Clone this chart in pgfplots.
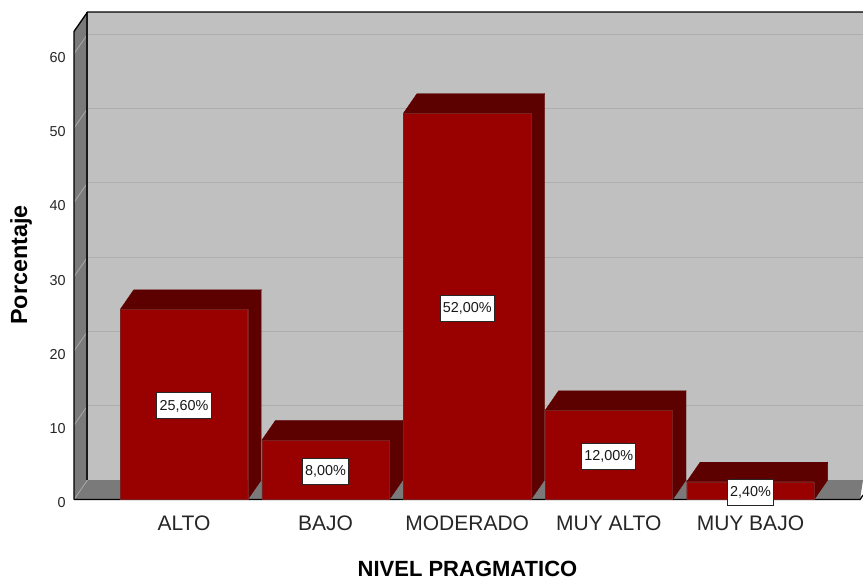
\documentclass[border=0pt]{standalone}
\usepackage{fontspec}
\setmainfont{Liberation Sans}
\usepackage{pgfplots}
\pgfplotsset{compat=1.18}
\definecolor{wall}{HTML}{C0C0C0}
\definecolor{floorgray}{HTML}{7A7A7A}
\definecolor{gridback}{HTML}{AEAEAE}
\definecolor{gridside}{HTML}{A8A8A8}
\definecolor{barfront}{HTML}{990000}
\definecolor{barside}{HTML}{5C0000}
\definecolor{edgegray}{HTML}{7A2020}
\begin{document}
\begin{tikzpicture}
\path[use as bounding box] (0,0) rectangle (647.25pt,437.25pt);
\begin{axis}[
    at={(55.5pt,62.6pt)}, anchor=south west,
    scale only axis, width=591.75pt, height=365.6pt,
    xmin=-0.7768, xmax=4.795, ymin=0, ymax=65.61,
    axis line style={draw=none},
    major tick length=0pt,
    xtick={0,1,2,3,4},
    xticklabels={ALTO,BAJO,MODERADO,MUY ALTO,MUY BAJO},
    ytick={0,10,20,30,40,50,60},
    /pgf/number format/assume math mode=true,
    xticklabel style={font=\fontsize{15.75}{18}\selectfont, text=black!85, anchor=center, yshift=-17.5pt},
    yticklabel style={font=\fontsize{10.8}{13}\selectfont, text=black!85, anchor=east, xshift=-2.7pt, yshift=-2.6pt},
    xlabel={\textbf{NIVEL PRAGMATICO}},
    xlabel style={font=\fontsize{16.5}{19}\selectfont, at={(axis description cs:0.4987,-0.1426)}, anchor=center},
    ylabel={\textbf{Porcentaje}},
    ylabel style={font=\fontsize{17.5}{20}\selectfont, at={(axis description cs:-0.0672,0.481)}, anchor=center},
    clip=false,
    unbounded coords=jump,
]
% walls
\addplot[fill=wall, draw=none] coordinates {(-0.6815,2.62) (4.795,2.62) (4.795,65.61) (-0.6815,65.61)} -- cycle;
\addplot[fill=floorgray, draw=none] coordinates {(-0.7768,0) (-0.6815,2.62) (-0.6815,65.61) (-0.7768,63)} -- cycle;
\addplot[fill=floorgray, draw=none] coordinates {(-0.7768,0) (-0.6815,2.62) (4.795,2.62) (4.774,0)} -- cycle;
% gridlines
\addplot[gridback, line width=0.9pt] coordinates {
  (-0.6815,12.62) (4.795,12.62) (nan,nan)
  (-0.6815,22.62) (4.795,22.62) (nan,nan)
  (-0.6815,32.62) (4.795,32.62) (nan,nan)
  (-0.6815,42.62) (4.795,42.62) (nan,nan)
  (-0.6815,52.62) (4.795,52.62) (nan,nan)
  (-0.6815,62.62) (4.795,62.62)};
\addplot[gridside, line width=0.6pt] coordinates {
  (-0.7768,0) (-0.6815,2.62) (nan,nan)
  (-0.7768,10) (-0.6815,12.62) (nan,nan)
  (-0.7768,20) (-0.6815,22.62) (nan,nan)
  (-0.7768,30) (-0.6815,32.62) (nan,nan)
  (-0.7768,40) (-0.6815,42.62) (nan,nan)
  (-0.7768,50) (-0.6815,52.62) (nan,nan)
  (-0.7768,60) (-0.6815,62.62)};
% frame
\addplot[black!90, line width=1.5pt] coordinates {(-0.6815,2.62) (-0.6815,65.61)};
\addplot[black, line width=1pt] coordinates {(-0.7768,0) (-0.7768,63) (-0.6815,65.61) (4.795,65.61)};
\addplot[black, line width=1pt] coordinates {(-0.7768,0) (4.774,0) (4.795,0.6)};
% bar sides
\addplot[fill=barside, draw=barside, line width=0.3pt] coordinates {(0.45,0) (0.545,2.62) (0.545,28.22) (0.45,25.6)} -- cycle;
\addplot[fill=barside, draw=barside, line width=0.3pt] coordinates {(1.45,0) (1.545,2.62) (1.545,10.62) (1.45,8)} -- cycle;
\addplot[fill=barside, draw=barside, line width=0.3pt] coordinates {(2.45,0) (2.545,2.62) (2.545,54.62) (2.45,52)} -- cycle;
\addplot[fill=barside, draw=barside, line width=0.3pt] coordinates {(3.45,0) (3.545,2.62) (3.545,14.62) (3.45,12)} -- cycle;
\addplot[fill=barside, draw=barside, line width=0.3pt] coordinates {(4.45,0) (4.545,2.62) (4.545,5.02) (4.45,2.4)} -- cycle;
% bar tops
\addplot[fill=barside, draw=barside, line width=0.3pt] coordinates {(-0.45,25.6) (0.45,25.6) (0.545,28.22) (-0.355,28.22)} -- cycle;
\addplot[fill=barside, draw=barside, line width=0.3pt] coordinates {(0.55,8) (1.45,8) (1.545,10.62) (0.645,10.62)} -- cycle;
\addplot[fill=barside, draw=barside, line width=0.3pt] coordinates {(1.55,52) (2.45,52) (2.545,54.62) (1.645,54.62)} -- cycle;
\addplot[fill=barside, draw=barside, line width=0.3pt] coordinates {(2.55,12) (3.45,12) (3.545,14.62) (2.645,14.62)} -- cycle;
\addplot[fill=barside, draw=barside, line width=0.3pt] coordinates {(3.55,2.4) (4.45,2.4) (4.545,5.02) (3.645,5.02)} -- cycle;
% bar fronts
\addplot[ybar, bar width=0.9, fill=barfront, draw=edgegray, line width=0.3pt] coordinates {(0,25.6) (1,8) (2,52) (3,12) (4,2.4)};
% value boxes
\addplot[draw=none, mark=none,
    point meta=explicit symbolic,
    nodes near coords,
    nodes near coords align={center},
    every node near coord/.append style={
        font=\fontsize{10.8}{13}\selectfont, text=black!90,
        fill=white, draw=black!85, line width=0.7pt,
        inner xsep=2pt, inner ysep=0pt, minimum height=19.5pt},
] coordinates {(0,12.6)[25,60\%] (1,3.75)[8,00\%] (2,25.7)[52,00\%] (3,5.75)[12,00\%] (4,1.0)[2,40\%]};
\end{axis}
\end{tikzpicture}
\end{document}
